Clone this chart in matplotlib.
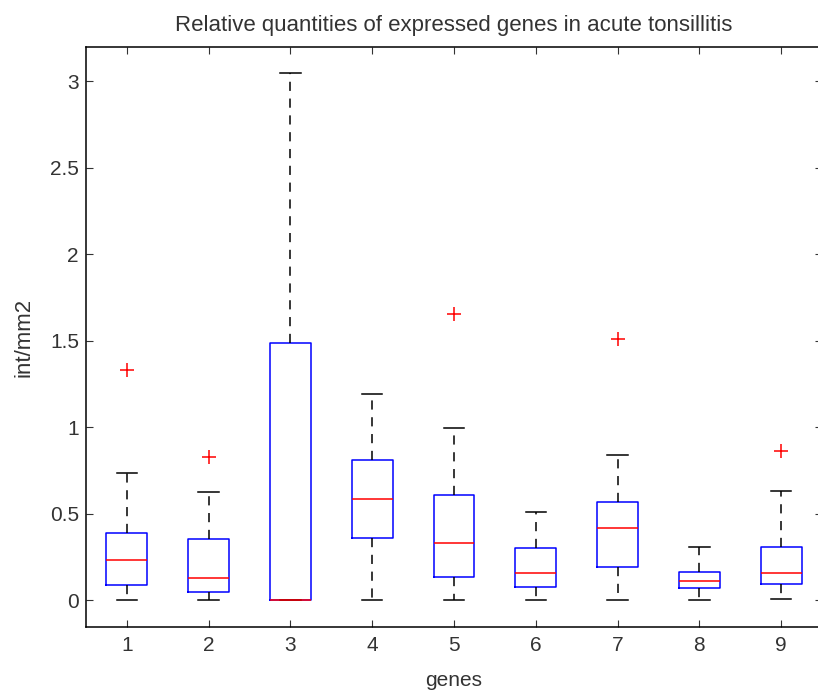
import matplotlib.pyplot as plt

genes = [1, 2, 3, 4, 5, 6, 7, 8, 9]
whislo = [0.0, 0.0, 0.0, 0.0, 0.0, 0.0, 0.0, 0.0, 0.009]
q1 = [0.088, 0.048, 0.0, 0.362, 0.137, 0.079, 0.194, 0.069, 0.096]
med = [0.235, 0.131, 0.0, 0.585, 0.333, 0.156, 0.42, 0.11, 0.156]
q3 = [0.39, 0.353, 1.487, 0.811, 0.607, 0.30, 0.568, 0.165, 0.31]
whishi = [0.734, 0.624, 3.045, 1.192, 0.998, 0.51, 0.84, 0.31, 0.634]
outliers = [[1.33], [0.83], [], [], [1.655], [], [1.509], [], [0.863]]

plt.rcParams['font.family'] = ['Liberation Sans', 'DejaVu Sans']

stats = []
for i in range(len(genes)):
    stats.append({
        'whislo': whislo[i], 'q1': q1[i], 'med': med[i],
        'q3': q3[i], 'whishi': whishi[i], 'fliers': outliers[i],
    })

fig = plt.figure(figsize=(8.18, 6.91), dpi=100)
ax = fig.add_axes([0.105, 0.093, 0.90, 0.8385])

ax.bxp(
    stats,
    positions=genes,
    widths=0.5,
    capwidths=0.25,
    boxprops=dict(color='#0000ff', linewidth=1.1),
    medianprops=dict(color='#ff0000', linewidth=1.1),
    whiskerprops=dict(color='black', linewidth=1.1, linestyle=(0, (6, 5))),
    capprops=dict(color='black', linewidth=1.1),
    flierprops=dict(marker='+', markeredgecolor='#ff0000', markersize=10,
                    linestyle='none', markeredgewidth=1.1),
)

ax.set_xlim(0.5, 9.5)
ax.set_ylim(-0.153, 3.196)
ax.set_xticks(genes)
ax.set_xticklabels([str(g) for g in genes])
ax.set_yticks([0, 0.5, 1, 1.5, 2, 2.5, 3])
ax.set_yticklabels(['0', '0.5', '1', '1.5', '2', '2.5', '3'])
ax.tick_params(direction='in', top=True, right=True, length=5,
               labelsize=15, colors='#333333')
ax.tick_params(axis='x', pad=7)
ax.tick_params(axis='y', pad=5)
for s in ax.spines.values():
    s.set_linewidth(1.1)

ax.set_title("Relative quantities of expressed genes in acute tonsillitis",
             fontsize=16, pad=12, color='#333333')
ax.set_xlabel("genes", fontsize=15, labelpad=11, color='#333333')
ax.set_ylabel("int/mm2", fontsize=16, labelpad=11, color='#333333')

fig.savefig("out.png", dpi=100)
plt.close(fig)
